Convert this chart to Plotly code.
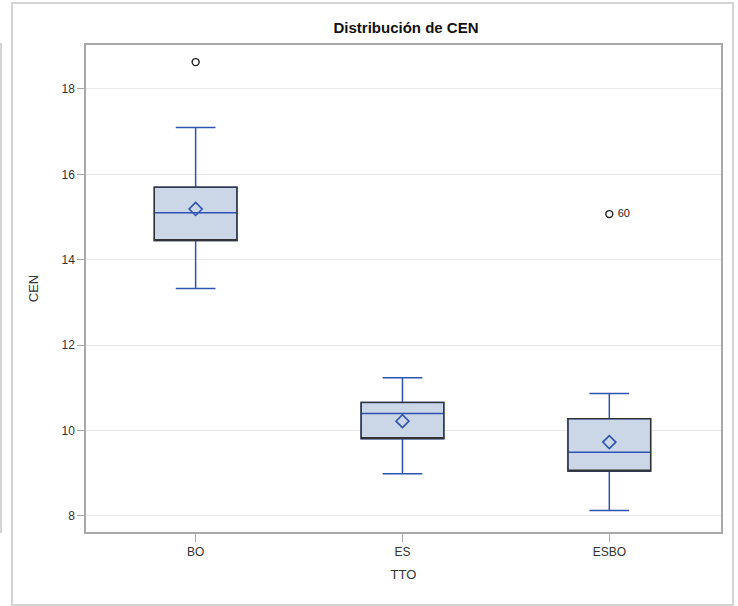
import plotly.graph_objects as go

# ---- data ----
categories = ["BO", "ES", "ESBO"]
q1 = [14.45, 9.81, 9.05]
median = [15.10, 10.40, 9.49]
q3 = [15.70, 10.66, 10.28]
lowerfence = [13.33, 8.99, 8.13]
upperfence = [17.10, 11.24, 10.87]
means = [15.19, 10.22, 9.73]
outlier_cat = ["BO", "ESBO"]
outlier_val = [18.63, 15.07]
outlier_label = ["", "60"]
y_ticks = [8, 10, 12, 14, 16, 18]

W, H = 738, 606
ML, MR, MT, MB = 86, 17, 45, 74
PW, PH = W - ML - MR, H - MT - MB

FONT = "Liberation Sans, Arial, sans-serif"
BLUE = "#2E53B0"
FILL = "#CBD6E6"
DARK = "#333333"

fig = go.Figure()

# blue whiskers + median + filled box
fig.add_trace(go.Box(
    x=categories, q1=q1, median=median, q3=q3,
    lowerfence=lowerfence, upperfence=upperfence,
    fillcolor=FILL, line=dict(color=BLUE, width=1.5),
    whiskerwidth=0.48, width=0.40, boxpoints=False,
    showlegend=False, hoverinfo="skip",
))
# dark outline of the box (no whiskers, median on the lower edge)
fig.add_trace(go.Box(
    x=categories, q1=q1, median=q1, q3=q3,
    lowerfence=q1, upperfence=q3,
    fillcolor="rgba(0,0,0,0)", line=dict(color=DARK, width=1.3),
    whiskerwidth=0, width=0.40, boxpoints=False,
    showlegend=False, hoverinfo="skip",
))
# mean diamonds
fig.add_trace(go.Scatter(
    x=categories, y=means, mode="markers",
    marker=dict(symbol="diamond-open", size=10, color=BLUE,
                line=dict(color=BLUE, width=1.6)),
    showlegend=False, hoverinfo="skip",
))
# outliers
fig.add_trace(go.Scatter(
    x=outlier_cat, y=outlier_val, mode="markers+text",
    text=[(" " + t) if t else "" for t in outlier_label],
    textposition="middle right",
    textfont=dict(family=FONT, size=11, color="#222222"),
    marker=dict(symbol="circle-open", size=7, color="#222222",
                line=dict(color="#222222", width=1.4)),
    showlegend=False, hoverinfo="skip",
))


def px_x(p):
    return (p - ML) / PW


def px_y(p):
    return 1 - (p - MT) / PH


shapes = [
    # outer panel frame
    dict(type="rect", xref="paper", yref="paper",
         x0=px_x(12), x1=px_x(733), y0=px_y(605), y1=px_y(3),
         line=dict(color="#D4D4D4", width=2), layer="below"),
    # neighbouring panel border on the far left
    dict(type="line", xref="paper", yref="paper",
         x0=px_x(1), x1=px_x(1), y0=px_y(43), y1=px_y(533),
         line=dict(color="#D4D4D4", width=2), layer="below"),
]

fig.update_layout(
    width=W, height=H,
    margin=dict(l=ML, r=MR, t=MT, b=MB, autoexpand=False),
    paper_bgcolor="white", plot_bgcolor="white",
    boxmode="overlay",
    font=dict(family=FONT, size=12, color=DARK),
    title=dict(text="<b>Distribución de CEN</b>", x=406 / W, xref="container",
               xanchor="center", y=1 - 28 / H, yref="container",
               yanchor="middle",
               font=dict(family=FONT, size=15, color="#111111")),
    shapes=shapes,
    xaxis=dict(
        type="category", categoryorder="array", categoryarray=categories,
        range=[-0.53, 2.54], showgrid=False, zeroline=False,
        showline=True, mirror=True, linecolor="#A8A8A8", linewidth=1.5,
        ticks="outside", ticklen=8, tickcolor="#A8A8A8", tickwidth=1,
        tickfont=dict(family=FONT, size=12, color=DARK),
        title=dict(text="TTO", font=dict(family=FONT, size=13, color=DARK),
                   standoff=12),
        automargin=False,
    ),
    yaxis=dict(
        range=[7.625, 19.03], tickvals=y_ticks,
        showgrid=True, gridcolor="#E8E8E8", gridwidth=1, zeroline=False,
        showline=True, mirror=True, linecolor="#A8A8A8", linewidth=1.5,
        ticks="outside", ticklen=7, tickcolor="#A8A8A8", tickwidth=1,
        tickfont=dict(family=FONT, size=12, color=DARK),
        title=dict(text="CEN", font=dict(family=FONT, size=13, color=DARK),
                   standoff=20),
        automargin=False,
    ),
)

fig.write_html("out.html")
